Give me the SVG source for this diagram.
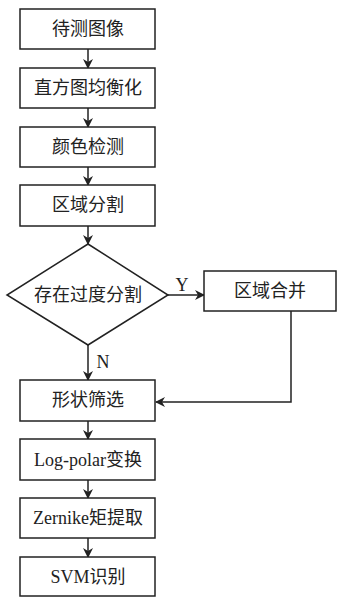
<svg xmlns="http://www.w3.org/2000/svg" width="338" height="597" viewBox="0 0 338 597">
<style>
.b{fill:#fff;stroke:#222;stroke-width:1.5}
.t{font-family:"Liberation Serif","Noto Sans CJK SC",serif;font-size:18px;fill:#222;text-anchor:middle;dominant-baseline:central}
.c{fill:none;stroke:#222;stroke-width:1.5;marker-end:url(#a)}
</style>
<defs><marker id="a" markerWidth="10" markerHeight="10" refX="9" refY="5" orient="auto" markerUnits="userSpaceOnUse"><path d="M0,0 L10,5 L0,10 L3,5 Z" fill="#222"/></marker></defs>
<rect width="338" height="597" fill="#fff"/>
<g id="connectors">
<path class="c" d="M88,49 V68"/>
<path class="c" d="M88,108 V127"/>
<path class="c" d="M88,167 V185"/>
<path class="c" d="M88,226 V244"/>
<path class="c" d="M168,295 H204"/>
<path class="c" d="M88,345 V380"/>
<path class="c" d="M291,311 V402 H156"/>
<path class="c" d="M88,421 V439"/>
<path class="c" d="M88,480 V498"/>
<path class="c" d="M88,538 V557"/>
<text class="t" x="182" y="285">Y</text>
<text class="t" x="103" y="362">N</text>
</g>
<g id="n1"><rect class="b" x="20" y="9" width="135" height="40"/><text class="t" x="88" y="29">待测图像</text></g>
<g id="n2"><rect class="b" x="20" y="68" width="135" height="40"/><text class="t" x="88" y="88">直方图均衡化</text></g>
<g id="n3"><rect class="b" x="20" y="127" width="135" height="40"/><text class="t" x="88" y="147">颜色检测</text></g>
<g id="n4"><rect class="b" x="20" y="185" width="135" height="41"/><text class="t" x="88" y="205">区域分割</text></g>
<g id="n5"><path class="b" d="M88,244 L168,295 L88,345 L7,295 Z"/><text class="t" x="88" y="295">存在过度分割</text></g>
<g id="n6"><rect class="b" x="204" y="271" width="132" height="40"/><text class="t" x="270" y="291">区域合并</text></g>
<g id="n7"><rect class="b" x="20" y="380" width="135" height="41"/><text class="t" x="88" y="400">形状筛选</text></g>
<g id="n8"><rect class="b" x="20" y="439" width="135" height="41"/><text class="t" x="88" y="460">Log-polar变换</text></g>
<g id="n9"><rect class="b" x="20" y="498" width="135" height="40"/><text class="t" x="88" y="518">Zernike矩提取</text></g>
<g id="n10"><rect class="b" x="20" y="557" width="135" height="39"/><text class="t" x="88" y="577">SVM识别</text></g>
</svg>
